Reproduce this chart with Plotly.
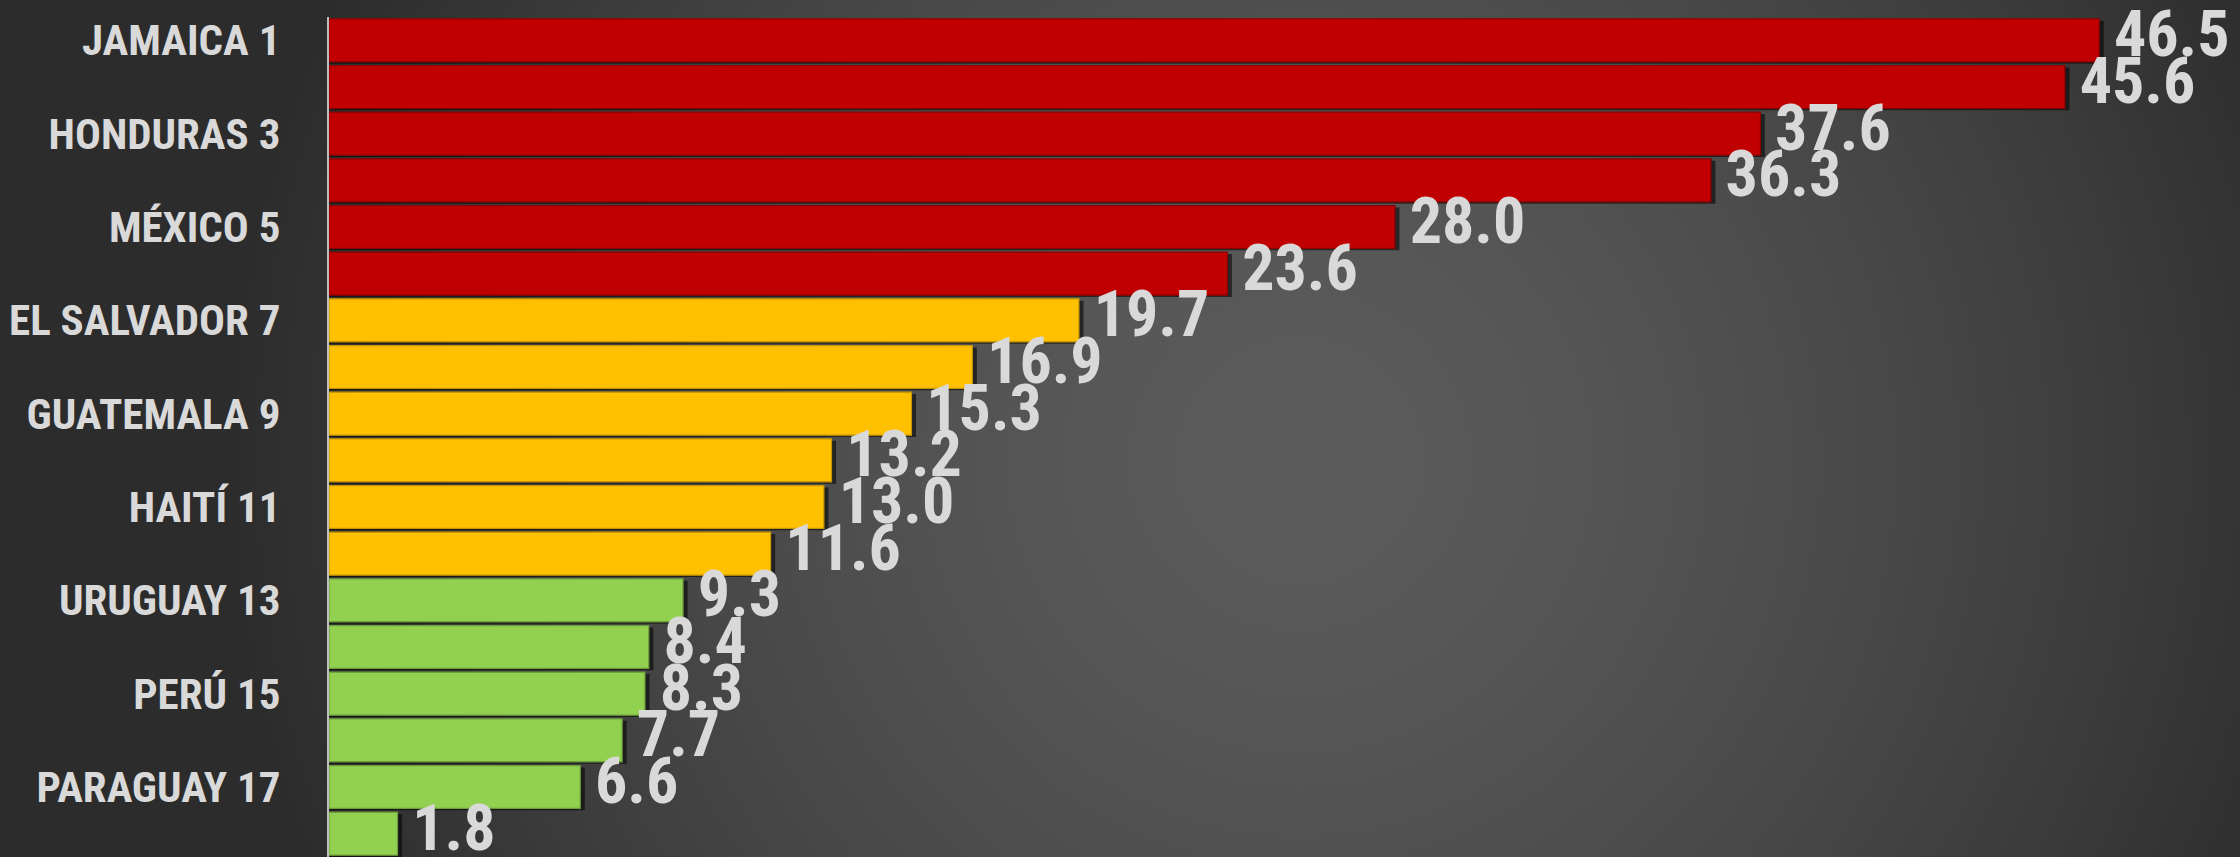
import base64
import struct
import zlib

import numpy as np
import plotly.graph_objects as go

# ---------------- data ----------------
ranks = list(range(1, 19))
values = [46.5, 45.6, 37.6, 36.3, 28.0, 23.6, 19.7, 16.9, 15.3,
          13.2, 13.0, 11.6, 9.3, 8.4, 8.3, 7.7, 6.6, 1.8]
groups = ["high"] * 6 + ["mid"] * 6 + ["low"] * 6
tick_labels = ["JAMAICA 1", "HONDURAS 3", "MÉXICO 5", "EL SALVADOR 7",
               "GUATEMALA 9", "HAITÍ 11", "URUGUAY 13", "PERÚ 15", "PARAGUAY 17"]
tick_ranks = ranks[::2]

group_fill = {"high": "#C00000", "mid": "#FFC000", "low": "#92D050"}
group_edge = {"high": "#8E0000", "mid": "#C89600", "low": "#6E9E3C"}

W, H = 2240, 857
ML, MT = 329, 17
FONT = "Roboto Condensed, Liberation Sans Narrow, Arial Narrow, DejaVu Sans Condensed, sans-serif"


# ---------------- background gradient (radial) as PNG ----------------
def make_png(arr):
    h, w, _ = arr.shape
    raw = b"".join(b"\x00" + arr[i].tobytes() for i in range(h))

    def chunk(tag, data):
        c = struct.pack(">I", len(data)) + tag + data
        return c + struct.pack(">I", zlib.crc32(tag + data) & 0xFFFFFFFF)

    return (b"\x89PNG\r\n\x1a\n"
            + chunk(b"IHDR", struct.pack(">IIBBBBB", w, h, 8, 2, 0, 0, 0))
            + chunk(b"IDAT", zlib.compress(raw, 9))
            + chunk(b"IEND", b""))


gw, gh = 560, 214
xx, yy = np.meshgrid((np.arange(gw) + 0.5) * (W / gw), (np.arange(gh) + 0.5) * (H / gh))
cx, cy = 1300, 460
r = np.sqrt((xx - cx) ** 2 + (yy - cy) ** 2) / 1080.0
t = np.clip(r, 0, 1) ** 1.5
v = (0x5C - (0x5C - 0x2C) * t).astype(np.uint8)
img = np.stack([v, v, v], axis=-1)
img_uri = "data:image/png;base64," + base64.b64encode(make_png(img)).decode()

# ---------------- figure ----------------
fig = go.Figure()

# shadow bars
fig.add_trace(go.Bar(
    x=[val + 0.12 for val in values], y=ranks, orientation="h",
    width=0.92, offset=-0.42,
    marker=dict(color="rgba(0,0,0,0.55)", line=dict(width=0)),
    hoverinfo="skip", showlegend=False,
))

# main bars
fig.add_trace(go.Bar(
    x=values, y=ranks, orientation="h",
    width=0.92,
    marker=dict(color=[group_fill[g] for g in groups],
                line=dict(color=[group_edge[g] for g in groups], width=1.2)),
    showlegend=False,
))

# value labels
fig.add_trace(go.Scatter(
    x=values, y=ranks, mode="text",
    text=[" %.1f" % val for val in values],
    textposition="middle right",
    textfont=dict(family=FONT, size=64, color="#D9D9D9", weight="bold"),
    cliponaxis=False, showlegend=False, hoverinfo="skip",
))

fig.update_layout(
    width=W, height=H,
    margin=dict(l=ML, r=0, t=MT, b=0),
    paper_bgcolor="#2E2E2E",
    plot_bgcolor="rgba(0,0,0,0)",
    barmode="overlay",
    images=[dict(
        source=img_uri, xref="paper", yref="paper",
        x=-ML / (W - ML), y=1 + MT / (H - MT),
        sizex=W / (W - ML), sizey=H / (H - MT),
        xanchor="left", yanchor="top", sizing="stretch", layer="below",
    )],
    xaxis=dict(range=[0, 50.2], visible=False, showgrid=False, zeroline=False),
    yaxis=dict(
        range=[18.5, 0.5],
        tickmode="array", tickvals=tick_ranks, ticktext=tick_labels,
        tickfont=dict(family=FONT, size=43, color="#D9D9D9", weight="bold"),
        ticks="", ticklabelstandoff=38, automargin=False,
        showgrid=False, zeroline=False,
        showline=True, linecolor="#BFBFBF", linewidth=2,
    ),
)

fig.write_html(
    "out.html",
    config={"displayModeBar": False},
    post_script="document.body.style.margin='0';document.body.style.padding='0';"
                "document.documentElement.style.overflow='hidden';",
)
